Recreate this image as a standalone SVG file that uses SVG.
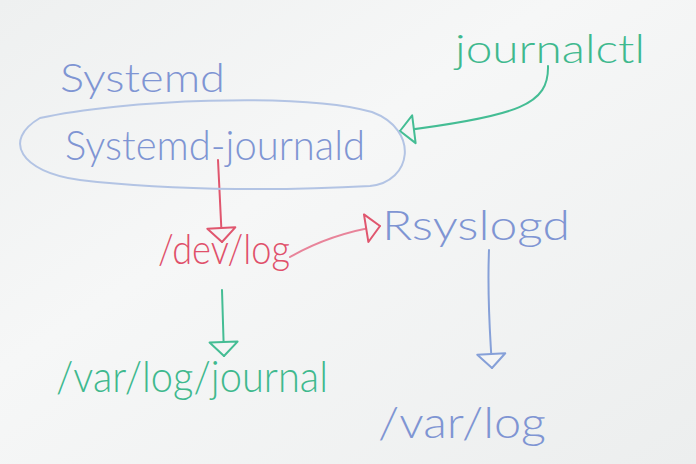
<svg xmlns="http://www.w3.org/2000/svg" width="696" height="464" viewBox="0 0 696 464">
<defs>
<linearGradient id="board" x1="0" y1="0" x2="1" y2="1">
<stop offset="0" stop-color="#eef0f0"/>
<stop offset="0.4" stop-color="#f6f7f7"/>
<stop offset="1" stop-color="#eceeee"/>
</linearGradient>
<marker id="ar" viewBox="-2 -17 18 34" refX="14" refY="0" markerWidth="18" markerHeight="34" markerUnits="userSpaceOnUse" orient="auto">
<path d="M0,-14 L14,0 L0,14 Z" fill="#f4f5f5" stroke="#e0566e" stroke-width="2" stroke-linejoin="round"/>
</marker>
<marker id="ag" viewBox="-2 -17 18 34" refX="14" refY="0" markerWidth="18" markerHeight="34" markerUnits="userSpaceOnUse" orient="auto">
<path d="M0,-14 L14,0 L0,14 Z" fill="#f4f5f5" stroke="#44bd94" stroke-width="2" stroke-linejoin="round"/>
</marker>
<marker id="ab" viewBox="-2 -17 18 34" refX="14" refY="0" markerWidth="18" markerHeight="34" markerUnits="userSpaceOnUse" orient="auto">
<path d="M0,-14 L14,0 L0,14 Z" fill="#f4f5f5" stroke="#86a0d8" stroke-width="2" stroke-linejoin="round"/>
</marker>
</defs>
<style>
text{font-family:"Lato","Open Sans","DejaVu Sans",sans-serif;font-weight:300;}
.blue{fill:#7f95d3;}
.red{fill:#e0506a;}
.green{fill:#3fb98e;}
.line{fill:none;stroke-width:2;stroke-linecap:round;}
</style>
<rect width="696" height="464" fill="url(#board)"/>
<g id="connectors">
<path class="line" d="M548,66 C549,104 520,116 400,131" stroke="#44bd94" marker-end="url(#ag)"/>
<path class="line" d="M218,160 L222,242" stroke="#e0566e" marker-end="url(#ar)"/>
<path class="line" d="M290,257 Q330,234 380,226" stroke="#e8849a" marker-end="url(#ar)"/>
<path class="line" d="M222,290 L224,356" stroke="#44bd94" marker-end="url(#ag)"/>
<path class="line" d="M489,250 C487,300 490,330 492,368" stroke="#86a0d8" marker-end="url(#ab)"/>
</g>
<g id="systemd">
<text class="blue" x="60" y="92" font-size="40" textLength="165" lengthAdjust="spacingAndGlyphs">Systemd</text>
</g>
<g id="systemd-journald">
<path d="M40,118 C120,100 300,92 372,112 C420,130 412,182 370,186 C300,190 180,192 80,180 C20,172 2,140 40,118 Z" fill="none" stroke="#b3c4e4" stroke-width="2"/>
<text class="blue" x="65" y="160" font-size="42" textLength="300" lengthAdjust="spacingAndGlyphs">Systemd-journald</text>
</g>
<g id="journalctl">
<text class="green" x="455" y="63" font-size="40" textLength="190" lengthAdjust="spacingAndGlyphs">journalctl</text>
</g>
<g id="dev-log">
<text class="red" x="158" y="264" font-size="42" textLength="132" lengthAdjust="spacingAndGlyphs">/dev/log</text>
</g>
<g id="rsyslogd">
<text class="blue" x="382" y="240" font-size="42" textLength="188" lengthAdjust="spacingAndGlyphs">Rsyslogd</text>
</g>
<g id="var-log-journal">
<text class="green" x="56" y="392" font-size="44" textLength="272" lengthAdjust="spacingAndGlyphs">/var/log/journal</text>
</g>
<g id="var-log">
<text class="blue" x="378" y="438" font-size="44" textLength="168" lengthAdjust="spacingAndGlyphs">/var/log</text>
</g>
</svg>
